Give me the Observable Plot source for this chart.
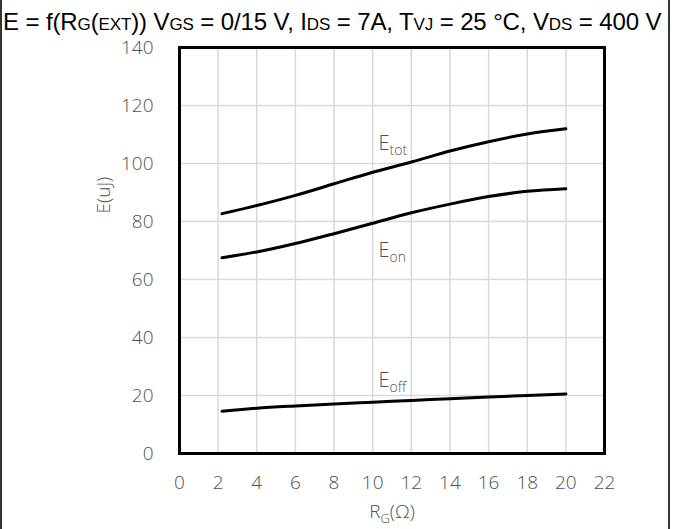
<!DOCTYPE html>
<html><head><meta charset="utf-8">
<script src="https://cdn.jsdelivr.net/npm/d3@7"></script>
<script src="https://cdn.jsdelivr.net/npm/@observablehq/plot@0.6"></script>
<style>
body{margin:0;background:#fff;}
#wrap{position:relative;width:677px;height:529px;overflow:hidden;background:#fff;}
#chart{position:absolute;left:0;top:0;}
#title{position:absolute;left:3px;top:10px;font-family:"Liberation Sans",Arial,sans-serif;font-size:24px;color:#000;white-space:nowrap;z-index:2;line-height:1;letter-spacing:-0.12px;}
#title .s{font-size:17px;}
.bl{position:absolute;top:0;bottom:0;width:2px;background:#333;z-index:3;}
</style></head><body>
<div id="wrap">
<div id="title">E = f(R<span class="s">G</span>(<span class="s">EXT</span>)) V<span class="s">GS</span> = 0/15 V, I<span class="s">DS</span> = 7A, T<span class="s">VJ</span> = 25 °C, V<span class="s">DS</span> = 400 V</div>
<div id="chart"></div>
<div class="bl" style="left:0px"></div>
<div class="bl" style="left:668px"></div>
</div>
<script>
const rg   = [2.2, 4, 6, 8, 10, 12, 14, 16, 18, 20];
const eTot = [82.7, 85.5, 89, 93, 97, 100.5, 104.3, 107.5, 110.2, 112];
const eOn  = [67.5, 69.5, 72.4, 75.8, 79.4, 83, 86, 88.6, 90.4, 91.3];
const eOff = [14.6, 15.6, 16.4, 17.1, 17.7, 18.3, 18.9, 19.5, 20.0, 20.5];
const seriesNames = ["Etot", "Eon", "Eoff"];
const xTicks = [0, 2, 4, 6, 8, 10, 12, 14, 16, 18, 20, 22];
const yTicks = [0, 20, 40, 60, 80, 100, 120, 140];
const curveLabels = [
  {base: "E", sub: "tot", x: 10.3, y: 106.8},
  {base: "E", sub: "on",  x: 10.3, y: 70},
  {base: "E", sub: "off", x: 10.3, y: 25.2}
];
const yLabel = "E(uJ)";
const xLabel = {base: "R", sub: "G", rest: "(Ω)"};

const seriesValues = [eTot, eOn, eOff];
const rows = seriesNames.flatMap((name, s) => rg.map((r, i) => ({name, r, e: seriesValues[s][i]})));

const lightFont = "'Open Sans', 'Noto Sans', sans-serif";
const grey = "#505050";
const fs = 19;

const chart = Plot.plot({
  width: 677, height: 529,
  marginLeft: 179, marginRight: 73, marginTop: 47, marginBottom: 76,
  style: {fontFamily: lightFont, fontSize: fs + "px", color: grey, background: "transparent", fontWeight: 300},
  x: {domain: [0, 22]},
  y: {domain: [0, 140]},
  marks: [
    Plot.gridX(xTicks.slice(1, -1), {stroke: "#d9d9d9", strokeOpacity: 1, strokeWidth: 1.5}),
    Plot.gridY(yTicks.slice(1, -1), {stroke: "#d9d9d9", strokeOpacity: 1, strokeWidth: 1.5}),
    Plot.axisX(xTicks, {tickSize: 0, tickPadding: 22, label: null, fill: grey, fontSize: fs}),
    Plot.axisY(yTicks, {tickSize: 0, tickPadding: 26, label: null, fill: grey, fontSize: fs}),
    Plot.line(rows, {x: "r", y: "e", z: "name", stroke: "#000", strokeWidth: 3, curve: "monotone-x"}),
    Plot.text(curveLabels, {x: "x", y: "y", text: "base", textAnchor: "start", fill: grey, fontSize: 20, className: "clab"}),
    Plot.text([yLabel], {frameAnchor: "left", rotate: -90, dx: -76, dy: -37, fill: grey, fontSize: fs}),
    Plot.text([xLabel.base], {frameAnchor: "bottom", dy: 64, fill: grey, fontSize: fs, className: "xlab"}),
    Plot.frame({stroke: "#000", strokeWidth: 3})
  ]
});
document.getElementById("chart").appendChild(chart);

const svg = d3.select(chart);
svg.selectAll(".clab text").each(function(d, i) {
  const idx = typeof d === "number" ? d : i;
  const t = d3.select(this);
  t.append("tspan").attr("font-size", 14).attr("dy", 5).text(curveLabels[idx].sub);
});
svg.selectAll(".xlab text").each(function() {
  const t = d3.select(this);
  t.text(null);
  t.append("tspan").text(xLabel.base);
  t.append("tspan").attr("font-size", 13).attr("dy", 5).text(xLabel.sub);
  t.append("tspan").attr("dy", -5).text(xLabel.rest);
});
</script>
</body></html>
